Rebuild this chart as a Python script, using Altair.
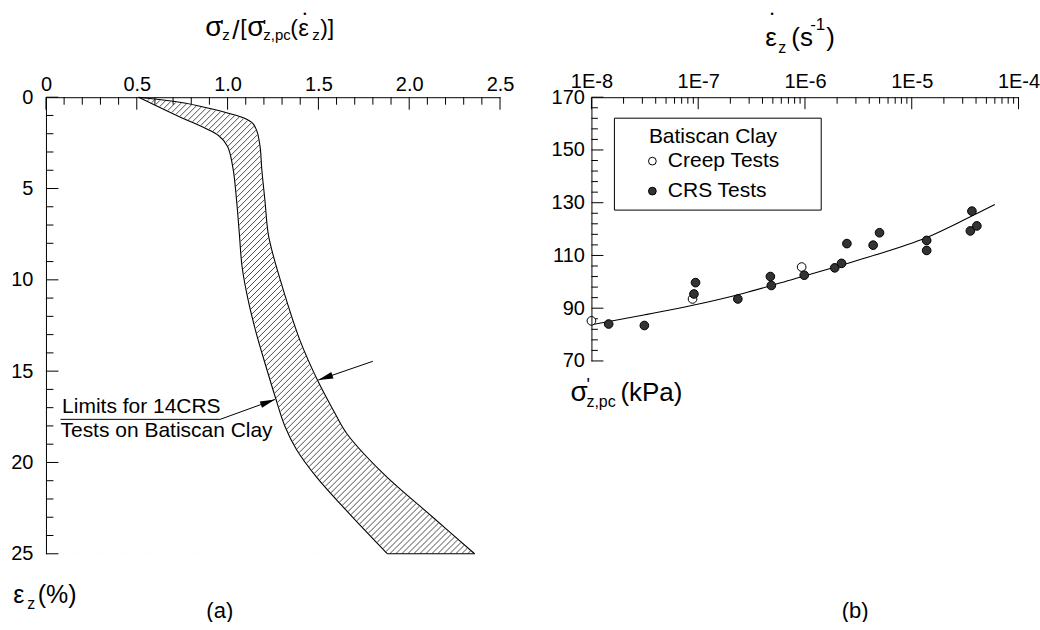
import altair as alt
import pandas as pd

FONT = "Liberation Sans"

# ---------------- panel (a): limits of the band ----------------
left_strain = [0, 1.0, 2.1, 2.7, 3.9, 5.7, 7.5, 9.3, 11.1, 13.0, 14.8, 16.4, 18.0, 19.3, 20.8, 22.8, 25.0]
left_ratio = [0.51, 0.72, 0.95, 1.00, 1.03, 1.05, 1.065, 1.08, 1.113, 1.16, 1.213, 1.262, 1.315, 1.38, 1.49, 1.67, 1.88]
right_strain = [0, 0.22, 0.45, 1.13, 1.45, 1.9, 2.8, 3.9, 5.7, 7.5, 8.8, 10.0, 11.3, 13.3, 15.6, 17.1, 18.4, 20.6, 23.0, 25.0]
right_ratio = [0.51, 0.70, 0.83, 1.087, 1.14, 1.163, 1.18, 1.188, 1.206, 1.224, 1.255, 1.29, 1.33, 1.398, 1.50, 1.58, 1.655, 1.856, 2.13, 2.36]

# annotation arrows (segments) and heads, in data units of panel (a)
seg_x = [1.80, 0.08, 0.959]
seg_y = [14.46, 17.64, 17.64]
seg_x2 = [1.499, 0.959, 1.261]
seg_y2 = [15.49, 17.64, 16.55]
head_x = [1.499, 1.261]
head_y = [15.49, 16.55]
head_angle = [251, 70]
note_text = ["Limits for 14CRS", "Tests on Batiscan Clay"]
note_x = [0.089, 0.080]
note_y = [17.31, 18.62]

a_x_major = [0, 0.5, 1.0, 1.5, 2.0, 2.5]
a_x_minor = [0.1, 0.2, 0.3, 0.4, 0.6, 0.7, 0.8, 0.9, 1.1, 1.2, 1.3, 1.4, 1.6, 1.7, 1.8, 1.9,
             2.1, 2.2, 2.3, 2.4]
a_y_major = [0, 5, 10, 15, 20, 25]
a_y_minor = [1, 2, 3, 4, 6, 7, 8, 9, 11, 12, 13, 14, 16, 17, 18, 19, 21, 22, 23, 24]

# ---------------- panel (b) ----------------
creep_rate = [1.0e-8, 8.85e-8, 9.31e-7]
creep_stress = [85.2, 93.5, 105.6]
crs_rate = [1.45e-8, 3.13e-8, 9.12e-8, 9.44e-8, 2.35e-7, 4.74e-7, 4.84e-7, 9.84e-7, 1.90e-6,
            2.20e-6, 2.47e-6, 4.35e-6, 4.99e-6, 1.38e-5, 1.38e-5, 3.54e-5, 3.66e-5, 4.07e-5]
crs_stress = [84.0, 83.45, 95.4, 99.7, 93.5, 102.0, 98.6, 102.5, 105.3,
              107.0, 114.5, 113.9, 118.6, 115.7, 111.9, 119.3, 126.8, 121.2]
fit_rate = [1.0e-8, 3.09e-8, 9.12e-8, 2.63e-7, 7.76e-7, 3.8e-6, 1.38e-5, 3.24e-5, 6.0e-5]
fit_stress = [83.7, 87.4, 91.2, 95.6, 101.0, 109.2, 116.8, 123.9, 129.3]

b_x_major = [1e-8, 1e-7, 1e-6, 1e-5, 1e-4]
b_x_minor = [m * d for d in (1e-8, 1e-7, 1e-6, 1e-5) for m in (2, 3, 4, 5, 6, 7, 8, 9)]
b_y_major = [70, 90, 110, 130, 150, 170]
b_y_minor = [74, 78, 82, 86, 94, 98, 102, 106, 114, 118, 122, 126, 134, 138, 142, 146,
             154, 158, 162, 166]

# ---------------- layout ----------------
W1, H1 = 454.5, 457
W2, H2 = 427.5, 264
O1 = (45.5, 97)
O2 = (591, 97)
dummy = pd.DataFrame({"d": [0]})

xs1 = alt.Scale(domain=[0, 2.5], nice=False, zero=False)
ys1 = alt.Scale(domain=[0, 25], nice=False, reverse=True)
ax1 = alt.Axis(orient="top", values=a_x_major, ticks=False, labelFlush=False, labelPadding=3,
               title=None, zindex=1, grid=False,
               labelExpr="datum.value == 0 ? '0' : format(datum.value, '.1f')")
ay1 = alt.Axis(orient="left", values=a_y_major, ticks=False, labelPadding=13, title=None,
               zindex=1, grid=False, format="d")


def X1(f):
    return alt.X(f, type="quantitative", scale=xs1, axis=ax1)


def Y1(f):
    return alt.Y(f, type="quantitative", scale=ys1, axis=ay1)


xs2 = alt.Scale(type="log", domain=[1e-8, 1e-4], nice=False)
ys2 = alt.Scale(domain=[70, 170], nice=False, zero=False)
ax2 = alt.Axis(orient="top", values=b_x_major, ticks=False, labelFlush=False, labelPadding=6,
               title=None, zindex=1, grid=False, labelOverlap=False,
               labelExpr="replace(format(datum.value, '.0e'), 'e', 'E')")
ay2 = alt.Axis(orient="left", values=b_y_major, ticks=False, labelPadding=7, title=None,
               zindex=1, grid=False, format="d")


def X2(f):
    return alt.X(f, type="quantitative", scale=xs2, axis=ax2)


def Y2(f):
    return alt.Y(f, type="quantitative", scale=ys2, axis=ay2)


def txt(s, ax, ay, size, origin, align="left"):
    return alt.Chart(dummy).mark_text(
        text=s, fontSize=size, align=align, baseline="alphabetic", font=FONT, color="black"
    ).encode(x=alt.value(ax - origin[0]), y=alt.value(ay - origin[1]))


def xticks(vals, X, length):
    return alt.Chart(pd.DataFrame({"t": vals})).mark_rule(color="black", strokeWidth=1).encode(
        x=X("t"), y=alt.value(0), y2=alt.value(length))


def yticks(vals, Y, length):
    return alt.Chart(pd.DataFrame({"t": vals})).mark_rule(color="black", strokeWidth=1).encode(
        y=Y("t"), x=alt.value(0), x2=alt.value(length))


# ---------------- panel (a) layers ----------------
band_l = pd.DataFrame({"e": left_strain, "v": left_ratio})
band_r = pd.DataFrame({"e": right_strain, "v": right_ratio})

hatch = alt.Chart(alt.sequence(-2.1, 2.45, 0.033, as_="k")).transform_calculate(
    xa="datum.k", xb="datum.k + 2.514", ea="25", eb="0"
).mark_rule(color="black", strokeWidth=0.7, clip=True).encode(
    x=X1("xa"), x2="xb:Q", y=Y1("ea"), y2="eb:Q")

white_l = alt.Chart(band_l).mark_area(orient="horizontal", color="white", opacity=1,
                                      interpolate="catmull-rom", stroke="white",
                                      strokeWidth=1.5, clip=True).encode(
    y=Y1("e"), x=X1("v"), x2=alt.datum(0))
white_r = alt.Chart(band_r).mark_area(orient="horizontal", color="white", opacity=1,
                                      interpolate="catmull-rom", stroke="white",
                                      strokeWidth=1.5, clip=True).encode(
    y=Y1("e"), x=X1("v"), x2=alt.datum(2.5))

edge_l = alt.Chart(band_l).mark_line(color="black", strokeWidth=1.1, interpolate="catmull-rom").encode(
    x=X1("v"), y=Y1("e"), order="e:Q")
edge_r = alt.Chart(band_r).mark_line(color="black", strokeWidth=1.1, interpolate="catmull-rom").encode(
    x=X1("v"), y=Y1("e"), order="e:Q")
edge_b = alt.Chart(pd.DataFrame({"a": [left_ratio[-1]], "b": [right_ratio[-1]],
                                 "e": [left_strain[-1]]})).mark_rule(color="black", strokeWidth=1.1).encode(
    x=X1("a"), x2="b:Q", y=Y1("e"))

segs = alt.Chart(pd.DataFrame({"x": seg_x, "y": seg_y, "x2": seg_x2, "y2": seg_y2})).mark_rule(
    color="black", strokeWidth=1).encode(x=X1("x"), y=Y1("y"), x2="x2:Q", y2="y2:Q")
heads = alt.Chart(pd.DataFrame({"x": head_x, "y": head_y, "ang": head_angle})).mark_point(
    shape="M0,0L0.45,2L-0.45,2Z", filled=True, color="black", size=225, opacity=1).encode(
    x=X1("x"), y=Y1("y"), angle=alt.Angle("ang:Q", scale=None))
notes = alt.Chart(pd.DataFrame({"x": note_x, "y": note_y, "t": note_text})).mark_text(
    align="left", baseline="alphabetic", fontSize=21, font=FONT, color="black").encode(
    x=X1("x"), y=Y1("y"), text="t:N")

anchor = alt.Chart(dummy).mark_rect(opacity=0).encode(
    x=alt.value(-O1[0]), x2=alt.value(-O1[0] + 1), y=alt.value(-O1[1]), y2=alt.value(-O1[1] + 1))

left_pieces = [
    ("σ", 205, 36, 28), ("'", 220, 32.3, 18), ("z", 222, 40, 15), ("/", 232, 39, 26),
    ("[", 240, 34.5, 23), ("σ", 247, 36, 28), ("'", 262.5, 32.3, 18), ("z,pc", 263, 40, 15),
    ("(", 290, 34.5, 23), ("ε", 298, 36, 24), ("z", 312, 40, 15), (")]", 320, 34.5, 23),
    ("ε", 12.7, 603, 25), ("z", 26.7, 609, 16), ("(%)", 37.3, 603, 25),
]
left_text = [txt(s, x, y, f, O1) for s, x, y, f in left_pieces]
left_text.append(txt("•", 304.5, 16.6, 9, O1, "center"))
left_text.append(txt("(a)", 219.5, 618, 22, O1, "center"))

left = alt.layer(
    hatch, white_l, white_r, edge_l, edge_r, edge_b,
    xticks(a_x_major, X1, 12.5), xticks(a_x_minor, X1, 7.5),
    yticks(a_y_major, Y1, 12.5), yticks(a_y_minor, Y1, 7.5),
    segs, heads, notes, anchor, *left_text
).properties(width=W1, height=H1)

# ---------------- panel (b) layers ----------------
pts = pd.DataFrame({
    "rate": creep_rate + crs_rate,
    "stress": creep_stress + crs_stress,
    "type": ["Creep Tests"] * len(creep_rate) + ["CRS Tests"] * len(crs_rate),
})
fit = alt.Chart(pd.DataFrame({"rate": fit_rate, "stress": fit_stress})).mark_line(
    color="black", strokeWidth=1.1, interpolate="monotone").encode(x=X2("rate"), y=Y2("stress"))

points = alt.Chart(pts).mark_point(shape="circle", filled=True, size=75, stroke="black",
                                   strokeWidth=1, opacity=1).encode(
    x=X2("rate"), y=Y2("stress"),
    fill=alt.Fill("type:N", scale=alt.Scale(domain=["Creep Tests", "CRS Tests"],
                                            range=["white", "#333333"]),
                  legend=alt.Legend(title="Batiscan Clay", orient="none",
                                    legendX=649 - O1[0], legendY=29,
                                    titleFontSize=21, titleFontWeight="normal", titleFont=FONT,
                                    titleColor="black", labelFontSize=21, labelFont=FONT,
                                    labelColor="black", symbolType="circle", symbolSize=60,
                                    symbolStrokeColor="black", symbolStrokeWidth=1,
                                    symbolOpacity=1, symbolOffset=-7, labelOffset=5,
                                    rowPadding=8, titlePadding=3.5, padding=0)))

legend_box = alt.Chart(dummy).mark_rect(fillOpacity=0, stroke="black", strokeWidth=1).encode(
    x=alt.value(614 - O2[0]), x2=alt.value(821 - O2[0]),
    y=alt.value(118 - O2[1]), y2=alt.value(210 - O2[1]))

right_pieces = [
    ("ε", 765, 46, 26), ("z", 778, 53, 16), ("(s", 791, 46, 26), ("-1", 810, 30, 17),
    (")", 826, 46, 26),
    ("σ", 570, 401.5, 28), ("'", 586, 391.3, 18), ("z,pc", 586, 406.7, 16), ("(kPa)", 620, 401, 26),
]
right_text = [txt(s, x, y, f, O2) for s, x, y, f in right_pieces]
right_text.append(txt("•", 771.7, 16.9, 9, O2, "center"))
right_text.append(txt("(b)", 855, 618, 22, O2, "center"))

right = alt.layer(
    xticks(b_x_major, X2, 12), xticks(b_x_minor, X2, 6.5),
    yticks(b_y_major, Y2, 12), yticks(b_y_minor, Y2, 6.5),
    fit, points, legend_box, *right_text
).properties(width=W2, height=H2)

chart = alt.hconcat(left, right, spacing=O2[0] - O1[0] - W1, bounds="flush").properties(
    padding={"left": 0, "top": 0, "right": 0, "bottom": 0}
).configure_view(stroke=None).configure_axis(
    labelFont=FONT, labelFontSize=20, labelColor="black", domainColor="black", domainWidth=1
)

chart.save("out.html", embed_options={"renderer": "svg", "actions": False})
